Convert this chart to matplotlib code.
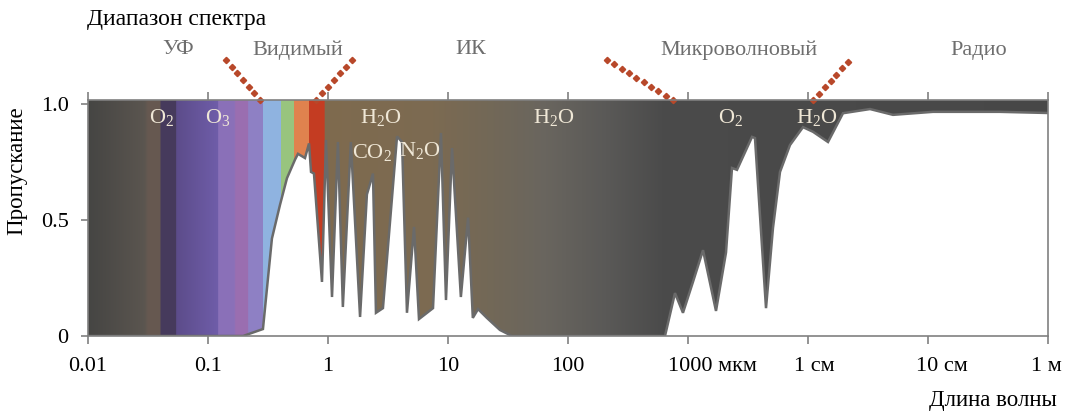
import numpy as np
import matplotlib
matplotlib.use("Agg")
import matplotlib.pyplot as plt
from matplotlib.colors import ListedColormap, to_rgb
from matplotlib.patches import Polygon
from matplotlib.transforms import ScaledTranslation

plt.rcParams['font.family'] = ['Liberation Serif', 'DejaVu Serif']
plt.rcParams['mathtext.fontset'] = 'custom'
plt.rcParams['mathtext.rm'] = 'Liberation Serif'
plt.rcParams['mathtext.it'] = 'Liberation Serif:italic'

# transmission of the atmosphere vs wavelength (micrometres)
wavelength_um = [0.01, 0.196, 0.287, 0.341, 0.398, 0.455, 0.531, 0.562, 0.643, 0.695,
                 0.722, 0.764, 0.891, 0.962, 1.08, 1.21, 1.33, 1.55, 1.85, 2.11,
                 2.37, 2.51, 2.87, 3.76, 4.14, 4.55, 5.21, 5.73, 7.5, 8.74,
                 9.62, 10.8, 12.8, 14.7, 16.1, 17.8, 21.1, 27.1, 34.1, 643,
                 779, 908, 1100, 1334, 1711, 2074, 2326, 2560, 3415, 3615,
                 4467, 5108, 5843, 7079, 9085, 11010, 14680, 19570, 32880, 51100,
                 110000, 398000, 1e6]
transmission = [0, 0, 0.03, 0.42, 0.565, 0.68, 0.76, 0.785, 0.767, 0.83,
                0.707, 0.70, 0.233, 0.845, 0.168, 0.836, 0.125, 0.836, 0.082, 0.61,
                0.70, 0.10, 0.12, 0.86, 0.836, 0.10, 0.47, 0.073, 0.12, 0.875,
                0.155, 0.81, 0.168, 0.51, 0.078, 0.116, 0.078, 0.026, 0, 0,
                0.185, 0.10, 0.233, 0.37, 0.108, 0.36, 0.724, 0.716, 0.858, 0.853,
                0.12, 0.466, 0.707, 0.823, 0.90, 0.88, 0.836, 0.96, 0.978, 0.953,
                0.966, 0.966, 0.961]

tick_values = [0.01, 0.1, 1, 10, 100, 1000, 1e4, 1e5, 1e6]
tick_labels = ['0.01', '0.1', '1', '10', '100', '1000 мкм', '1 см', '10 см', '1 м']
y_ticks = [0, 0.5, 1.0]
y_tick_labels = ['0', '0.5', '1.0']

band_names = ['УФ', 'Видимый', 'ИК', 'Микроволновый', 'Радио']
molecules = ['O$_2$', 'O$_3$', 'H$_2$O', 'CO$_2$', 'N$_2$O', 'H$_2$O', 'O$_2$', 'H$_2$O']

# colour stops of the absorbed area (log10 wavelength, colour)
color_stops = [
    (-2.0, '#454543'), (-1.86, '#4b4946'), (-1.53, '#5a554f'), (-1.50, '#665850'),
    (-1.40, '#665850'), (-1.39, '#463a5c'), (-1.27, '#463a5c'), (-1.26, '#5c4c8a'),
    (-0.92, '#6e5ca8'), (-0.91, '#8a70b8'), (-0.78, '#8a70b8'), (-0.77, '#9a6eb0'),
    (-0.67, '#9a6eb0'), (-0.66, '#8e80c4'), (-0.545, '#8e80c4'), (-0.54, '#8fb3e0'),
    (-0.395, '#8fb3e0'), (-0.39, '#98c47e'), (-0.285, '#98c47e'), (-0.28, '#e0824e'),
    (-0.16, '#e0824e'), (-0.155, '#c43c22'), (-0.03, '#c43c22'), (-0.025, '#7e6a4e'),
    (0.85, '#7c6a51'), (1.3, '#736856'), (1.8, '#69655e'), (2.3, '#5a5957'),
    (2.8, '#4a4a4a'), (6.0, '#474747'),
]

W, H = 1074, 411
fig = plt.figure(figsize=(W / 100, H / 100), dpi=100)
ax = fig.add_axes([88 / W, 1 - 336 / H, 960 / W, 236 / H])
ax.set_xscale('log')
ytop = 1.017
ax.set_xlim(0.01, 1e6)
ax.set_ylim(0, ytop)

# gradient of colours clipped to the absorbed region
n = 2400
edges = np.linspace(-2, 6, n + 1)
centers = 0.5 * (edges[:-1] + edges[1:])
sx = [s[0] for s in color_stops]
rgb = np.array([to_rgb(s[1]) for s in color_stops])
cols = np.column_stack([np.interp(centers, sx, rgb[:, k]) for k in range(3)])
cmap = ListedColormap(cols)
mesh = ax.pcolormesh(10 ** edges, [0, ytop], np.arange(n)[None, :], cmap=cmap,
                     vmin=-0.5, vmax=n - 0.5, shading='flat', antialiased=False,
                     edgecolors='none', rasterized=True)
verts = list(zip(wavelength_um, transmission)) + [(1e6, ytop), (0.01, ytop)]
clip = Polygon(verts, closed=True, transform=ax.transData)
mesh.set_clip_path(clip)

ax.plot(wavelength_um, transmission, color='#6a6a6a', lw=1.8, solid_joinstyle='miter')

for s in ax.spines.values():
    s.set_color('#808080')
    s.set_linewidth(1.2)

ax.set_xticks(tick_values)
ax.set_xticklabels(tick_labels)
ax.xaxis.set_minor_locator(matplotlib.ticker.NullLocator())
ax.tick_params(axis='x', which='major', direction='out', length=6, width=1.2,
               color='#808080', top=True, labelsize=16, pad=9, labelcolor='black')
ax.set_yticks(y_ticks)
ax.set_yticklabels(y_tick_labels)
ax.tick_params(axis='y', direction='out', length=5, width=1.2, color='#808080',
               labelsize=16, pad=9)
offsets_px = [0, 0, 0, 0, 0, 24, 6, 14, -2]
for lab, dx in zip(ax.get_xticklabels(), offsets_px):
    lab.set_transform(lab.get_transform() + ScaledTranslation(dx / 100, 0, fig.dpi_scale_trans))

ax.set_ylabel('Пропускание', fontsize=16.5)
ax.yaxis.set_label_coords(-0.063, 0.70)

fig.text(1057 / W, 1 - 400 / H, 'Длина волны', ha='right', va='center', fontsize=16.5)
fig.text(87 / W, 1 - 19 / H, 'Диапазон спектра', ha='left', va='center', fontsize=17)

band_x = [178, 298, 471, 739, 979]
for name, bx in zip(band_names, band_x):
    fig.text(bx / W, 1 - 50 / H, name, ha='center', va='center', fontsize=16,
             color='#6e6e6e')

mol_pos = [(0.0414, 0.94), (0.121, 0.94), (2.77, 0.94), (2.33, 0.79), (5.84, 0.80),
           (76.4, 0.94), (2280, 0.94), (11900, 0.94)]
for m, (mx, my) in zip(molecules, mol_pos):
    ax.text(mx, my, m, ha='center', va='center', fontsize=16, color='#efe7d6')

# dotted boundaries between spectral ranges
dotted = [((0.141, 1.19), (0.271, 1.017), 7), ((1.585, 1.19), (0.794, 1.017), 7),
          ((211, 1.19), (750, 1.017), 10), ((21540, 1.181), (11010, 1.017), 7)]
for (x0, y0), (x1, y1), k in dotted:
    xs = np.logspace(np.log10(x0), np.log10(x1), k)
    ys = np.linspace(y0, y1, k)
    ax.plot(xs, ys, ls='none', marker='D', ms=3.2, color='#b8482a', clip_on=False)

fig.savefig('out.png', dpi=100)
